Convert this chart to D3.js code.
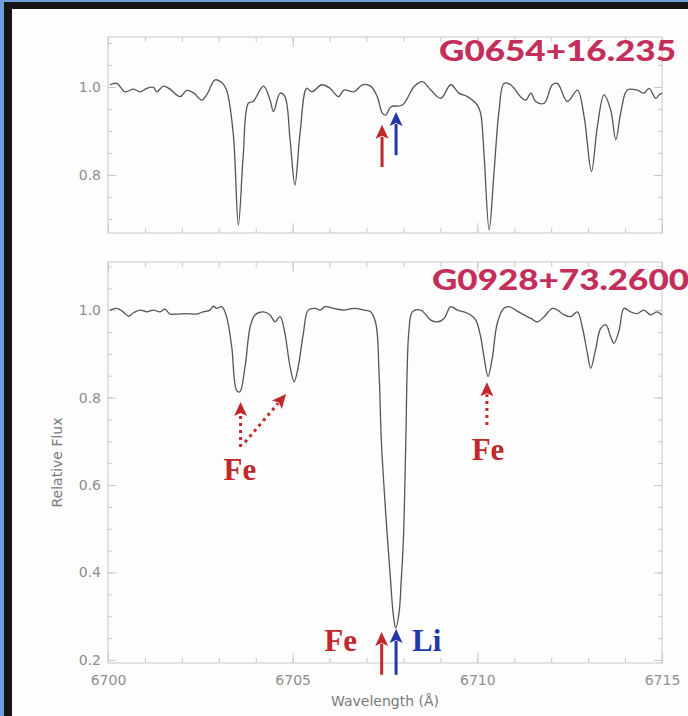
<!DOCTYPE html>
<html>
<head>
<meta charset="utf-8">
<script src="https://cdn.jsdelivr.net/npm/d3@7"></script>
<style>
  html, body { margin: 0; padding: 0; background: #fff; }
  svg { display: block; }
</style>
</head>
<body>
<div id="chart"></div>
<script>
// ---------------- DATA ----------------
const xTickValues = [6700, 6705, 6710, 6715];
const xMinorTickValues = d3.range(6700, 6716, 1);
const yTickValues = [0.2, 0.4, 0.6, 0.8, 1.0];
const yMinorTickValues = d3.range(0.2, 1.11, 0.05).map(v => +v.toFixed(2));

const titleTop = "G0654+16.235";
const titleBottom = "G0928+73.2600";
const xAxisTitle = "Wavelength (Å)";
const yAxisTitle = "Relative Flux";

// Top spectrum: G0654+16.235
const wlTop = [6700.05,6700.24,6700.46,6700.69,6700.87,6701.05,6701.23,6701.32,6701.50,6701.68,6701.95,6702.13,6702.31,6702.54,6702.67,6702.90,6703.08,6703.21,6703.39,6703.53,6703.66,6703.80,6703.93,6704.21,6704.39,6704.48,6704.66,6704.79,6704.93,6705.06,6705.20,6705.38,6705.52,6705.79,6706.01,6706.24,6706.39,6706.66,6706.89,6707.11,6707.29,6707.43,6707.52,6707.66,6707.97,6708.29,6708.51,6708.74,6709.01,6709.28,6709.50,6709.73,6710.00,6710.09,6710.18,6710.32,6710.45,6710.59,6710.72,6710.90,6711.17,6711.31,6711.45,6711.58,6711.81,6712.03,6712.17,6712.44,6712.71,6712.89,6713.09,6713.25,6713.43,6713.61,6713.75,6713.88,6714.06,6714.33,6714.51,6714.65,6714.83,6714.92,6715.00];
const fluxTop = [1.005,1.008,0.989,0.995,0.989,0.997,0.999,0.989,1.002,0.995,0.978,0.992,0.987,0.970,0.982,1.016,1.010,0.993,0.895,0.686,0.842,0.963,0.967,1.002,0.970,0.944,0.986,0.978,0.880,0.777,0.895,0.997,0.989,1.005,0.997,0.978,0.993,0.989,1.005,1.002,0.978,0.940,0.936,0.955,0.959,1.001,1.012,0.993,0.974,1.005,0.986,0.978,0.959,0.940,0.849,0.675,0.804,0.948,1.008,1.005,0.978,0.970,0.986,0.967,0.963,1.005,1.008,0.967,0.993,0.933,0.808,0.910,0.982,0.948,0.880,0.940,0.993,0.993,0.986,0.997,0.974,0.982,0.986];

// Bottom spectrum: G0928+73.2600
const wlBottom = [6700.05,6700.24,6700.41,6700.55,6700.69,6700.87,6701.05,6701.23,6701.41,6701.54,6701.68,6701.86,6702.13,6702.40,6702.58,6702.76,6702.85,6702.94,6703.08,6703.21,6703.35,6703.48,6703.57,6703.71,6703.85,6703.98,6704.21,6704.39,6704.52,6704.66,6704.79,6704.93,6705.04,6705.15,6705.29,6705.42,6705.61,6705.74,6705.88,6706.10,6706.39,6706.66,6706.93,6707.11,6707.25,6707.34,6707.40,6707.47,6707.57,6707.65,6707.72,6707.79,6707.88,6707.94,6707.99,6708.02,6708.04,6708.07,6708.10,6708.15,6708.24,6708.47,6708.74,6708.92,6709.10,6709.28,6709.46,6709.64,6709.82,6709.96,6710.09,6710.18,6710.29,6710.41,6710.54,6710.72,6710.86,6711.04,6711.26,6711.45,6711.62,6711.81,6712.03,6712.17,6712.35,6712.53,6712.71,6712.84,6712.98,6713.07,6713.20,6713.34,6713.48,6713.61,6713.70,6713.84,6713.97,6714.15,6714.33,6714.51,6714.69,6714.87,6715.00];
const fluxBottom = [1.000,1.004,0.996,0.986,0.994,1.000,0.996,1.000,0.996,1.002,0.991,0.991,0.992,0.991,0.996,1.000,1.009,1.004,1.008,0.985,0.916,0.817,0.813,0.870,0.962,0.989,0.996,0.989,0.973,0.985,0.947,0.870,0.836,0.870,0.947,1.000,1.004,1.000,1.008,1.004,1.000,1.004,1.000,0.996,0.970,0.856,0.703,0.600,0.474,0.383,0.307,0.273,0.307,0.383,0.459,0.536,0.611,0.726,0.863,0.955,0.996,1.000,0.977,0.973,0.981,1.008,1.000,0.996,0.989,0.977,0.939,0.893,0.848,0.893,0.970,1.004,1.008,1.000,0.989,0.981,0.973,0.985,1.004,1.000,0.989,0.985,0.996,0.962,0.901,0.867,0.909,0.958,0.966,0.939,0.924,0.954,1.004,0.996,0.992,1.000,0.989,0.996,0.989];

// Annotations (data units: wavelength, flux)
const arrowsTopPanel = [
  { kind: "Fe", wl: 6707.42, tail: 0.818, tip: 0.914 },
  { kind: "Li", wl: 6707.80, tail: 0.845, tip: 0.943 }
];
const arrowsBottomPanel = [
  { kind: "Fe", wl: 6707.41, tail: 0.166, tip: 0.264 },
  { kind: "Li", wl: 6707.80, tail: 0.166, tip: 0.271 }
];
const dottedArrows = [
  { wl0: 6703.59, f0: 0.687, wl1: 6703.59, f1: 0.790 },
  { wl0: 6703.71, f0: 0.698, wl1: 6704.82, f1: 0.808 },
  { wl0: 6710.26, f0: 0.737, wl1: 6710.26, f1: 0.835 }
];
const lineLabels = [
  { text: "Fe", kind: "Fe", wl: 6703.57, f: 0.611, anchor: "middle" },
  { text: "Fe", kind: "Fe", wl: 6710.29, f: 0.657, anchor: "middle" },
  { text: "Fe", kind: "Fe", wl: 6706.30, f: 0.221, anchor: "middle" },
  { text: "Li", kind: "Li", wl: 6708.23, f: 0.221, anchor: "start" }
];

// ---------------- STYLE ----------------
const W = 688, H = 716;
const colors = { Fe: "#c0282c", Li: "#2338a8", title: "#c42e5a", line: "#555555", axis: "#c8c8c8", tick: "#8e8e8e" };

const svg = d3.select("#chart").append("svg").attr("width", W).attr("height", H);

// frame
svg.append("rect").attr("x", 0).attr("y", 0).attr("width", W).attr("height", H).attr("fill", "#6f9fd9");
svg.append("rect").attr("x", 4).attr("y", 2).attr("width", W - 4).attr("height", H - 2).attr("fill", "#141414");
svg.append("rect").attr("x", 12).attr("y", 9).attr("width", W - 12).attr("height", H - 9).attr("fill", "#fdfdfd");

const x = d3.scaleLinear().domain([6700, 6715]).range([108, 662]);
const yTop = d3.scaleLinear().domain([0.668, 1.1136]).range([233, 37]);
const yBot = d3.scaleLinear().domain([0.193, 1.11]).range([663, 262]);

function drawPanel(y, showXLabels) {
  const g = svg.append("g");
  const [x0, x1] = x.range();
  const [yb, yt] = y.range();
  const yTicks = yTickValues.filter(v => v >= y.domain()[0] && v <= y.domain()[1]);
  const yMinor = yMinorTickValues.filter(v => v >= y.domain()[0] && v <= y.domain()[1]);

  g.append("rect").attr("x", x0).attr("y", yt).attr("width", x1 - x0).attr("height", yb - yt)
    .attr("fill", "none").attr("stroke", colors.axis).attr("stroke-width", 1);

  const styleAxis = sel => {
    sel.select(".domain").remove();
    sel.selectAll("line").attr("stroke", colors.axis).attr("stroke-width", 1);
    sel.selectAll("text").attr("fill", colors.tick).attr("font-family", "DejaVu Sans")
      .attr("font-size", 14);
  };

  g.append("g").attr("transform", `translate(${x0},0)`)
    .call(d3.axisLeft(y).tickValues(yTicks).tickSizeInner(-8).tickSizeOuter(0).tickPadding(7).tickFormat(d3.format(".1f")))
    .call(styleAxis);
  g.append("g").attr("transform", `translate(${x0},0)`)
    .call(d3.axisLeft(y).tickValues(yMinor).tickSizeInner(-4).tickSizeOuter(0).tickFormat(""))
    .call(styleAxis);
  g.append("g").attr("transform", `translate(${x1},0)`)
    .call(d3.axisRight(y).tickValues(yTicks).tickSizeInner(-8).tickSizeOuter(0).tickFormat(""))
    .call(styleAxis);
  g.append("g").attr("transform", `translate(${x1},0)`)
    .call(d3.axisRight(y).tickValues(yMinor).tickSizeInner(-4).tickSizeOuter(0).tickFormat(""))
    .call(styleAxis);
  g.append("g").attr("transform", `translate(0,${yb})`)
    .call(d3.axisBottom(x).tickValues(xTickValues).tickSizeInner(-10).tickSizeOuter(0).tickPadding(12)
      .tickFormat(showXLabels ? d3.format("d") : ""))
    .call(styleAxis);
  g.append("g").attr("transform", `translate(0,${yb})`)
    .call(d3.axisBottom(x).tickValues(xMinorTickValues).tickSizeInner(-5).tickSizeOuter(0).tickFormat(""))
    .call(styleAxis);
  g.append("g").attr("transform", `translate(0,${yt})`)
    .call(d3.axisTop(x).tickValues(xTickValues).tickSizeInner(-10).tickSizeOuter(0).tickFormat(""))
    .call(styleAxis);
  g.append("g").attr("transform", `translate(0,${yt})`)
    .call(d3.axisTop(x).tickValues(xMinorTickValues).tickSizeInner(-5).tickSizeOuter(0).tickFormat(""))
    .call(styleAxis);
  return g;
}

drawPanel(yTop, false);
drawPanel(yBot, true);

// spectra
const lineTop = d3.line().x(d => x(d[0])).y(d => yTop(d[1])).curve(d3.curveCatmullRom.alpha(0.5));
const lineBot = d3.line().x(d => x(d[0])).y(d => yBot(d[1])).curve(d3.curveCatmullRom.alpha(0.5));
svg.append("path").datum(d3.zip(wlTop, fluxTop)).attr("d", lineTop)
  .attr("fill", "none").attr("stroke", colors.line).attr("stroke-width", 1.3).attr("stroke-linejoin", "round");
svg.append("path").datum(d3.zip(wlBottom, fluxBottom)).attr("d", lineBot)
  .attr("fill", "none").attr("stroke", colors.line).attr("stroke-width", 1.3).attr("stroke-linejoin", "round");

// axis titles
svg.append("text").attr("x", (x.range()[0] + x.range()[1]) / 2).attr("y", 706)
  .attr("text-anchor", "middle").attr("font-family", "DejaVu Sans").attr("font-size", 14)
  .attr("fill", "#7a7a7a").text(xAxisTitle);
svg.append("text").attr("transform", `translate(62,${(yBot.range()[0] + yBot.range()[1]) / 2}) rotate(-90)`)
  .attr("text-anchor", "middle").attr("font-family", "DejaVu Sans").attr("font-size", 14)
  .attr("fill", "#7a7a7a").text(yAxisTitle);

// titles
svg.append("text").attr("x", 439).attr("y", 61).attr("font-family", "Lato").attr("font-weight", 900)
  .attr("font-size", 28).attr("fill", colors.title)
  .attr("textLength", 237).attr("lengthAdjust", "spacingAndGlyphs").text(titleTop);
svg.append("text").attr("x", 432).attr("y", 290).attr("font-family", "Lato").attr("font-weight", 900)
  .attr("font-size", 28).attr("fill", colors.title)
  .attr("textLength", 257).attr("lengthAdjust", "spacingAndGlyphs").text(titleBottom);

// arrows
function arrow(px0, py0, px1, py1, color, dotted) {
  const dx = px1 - px0, dy = py1 - py0, len = Math.hypot(dx, dy);
  const ux = dx / len, uy = dy / len;
  const h = 14, w = 6.5;
  const bx = px1 - ux * h, by = py1 - uy * h;
  const g = svg.append("g");
  g.append("line").attr("x1", px0).attr("y1", py0).attr("x2", bx + ux * 2).attr("y2", by + uy * 2)
    .attr("stroke", color).attr("stroke-width", 3)
    .attr("stroke-dasharray", dotted ? "3,4" : null);
  g.append("path")
    .attr("d", `M${px1},${py1} L${bx - uy * w},${by + ux * w} L${bx + ux * 3},${by + uy * 3} L${bx + uy * w},${by - ux * w} Z`)
    .attr("fill", color);
}

arrowsTopPanel.forEach(a => arrow(x(a.wl), yTop(a.tail), x(a.wl), yTop(a.tip), colors[a.kind], false));
arrowsBottomPanel.forEach(a => arrow(x(a.wl), yBot(a.tail), x(a.wl), yBot(a.tip), colors[a.kind], false));
dottedArrows.forEach(a => arrow(x(a.wl0), yBot(a.f0), x(a.wl1), yBot(a.f1), colors.Fe, true));

lineLabels.forEach(l => {
  svg.append("text").attr("x", x(l.wl)).attr("y", yBot(l.f)).attr("text-anchor", l.anchor)
    .attr("font-family", "Liberation Serif").attr("font-weight", "bold").attr("font-size", 31)
    .attr("fill", colors[l.kind]).text(l.text);
});
</script>
</body>
</html>
